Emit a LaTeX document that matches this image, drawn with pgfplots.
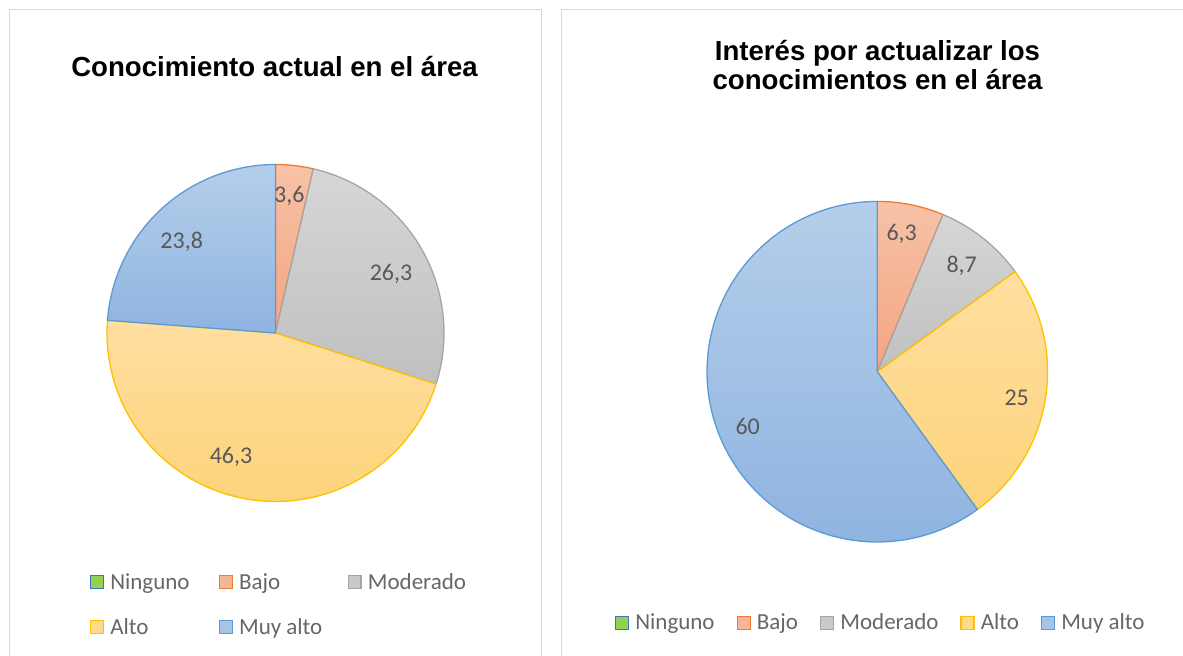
\documentclass[border=0pt]{standalone}
\usepackage{pgfplots}
\pgfplotsset{compat=1.18}
\usepackage{fontspec}
\setmainfont{Carlito}
\newfontfamily\titlefont{Liberation Sans}

\definecolor{frame}{HTML}{D9D9D9}
\definecolor{labelgray}{HTML}{595959}
\definecolor{legendgray}{HTML}{666666}
% slice colours
\definecolor{bajoline}{HTML}{ED7D31}\definecolor{bajotop}{HTML}{F7C2A8}\definecolor{bajobot}{HTML}{F3A482}
\definecolor{modline}{HTML}{A5A5A5}\definecolor{modtop}{HTML}{D6D6D6}\definecolor{modbot}{HTML}{C0C0C0}
\definecolor{altoline}{HTML}{FFC000}\definecolor{altotop}{HTML}{FFDFA0}\definecolor{altobot}{HTML}{FDD47B}
\definecolor{muyline}{HTML}{5B9BD5}\definecolor{muytop}{HTML}{B5CEEA}\definecolor{muybot}{HTML}{8FB4E0}
\definecolor{ningline}{HTML}{4472C4}\definecolor{ningfill}{HTML}{92D050}
\definecolor{bajofill}{HTML}{F5B597}\definecolor{modfill}{HTML}{C9C9C9}
\definecolor{altofill}{HTML}{FFD98C}\definecolor{muyfill}{HTML}{A7C4E7}

% cx, cy, radius, cumulative start (%), value (%), colour name
\newcommand{\pieslice}[6]{%
  \pgfmathsetmacro{\thA}{90-3.6*(#4+#5)}%
  \pgfmathsetmacro{\thB}{90-3.6*#4}%
  \addplot[forget plot, draw=#6line, line width=1.3bp, line join=round,
    top color=#6top, bottom color=#6bot,
    domain=\thA:\thB, samples=120, variable=\t]
    ({#1+#3*cos(\t)},{#2+#3*sin(\t)}) -- (axis cs:#1,#2) -- cycle;
}

\pgfplotsset{
  pielayout/.style={x=1bp, y=1bp, ymin=0, ymax=656, hide axis, clip=false,
    anchor=south west,
    legend image code/.code={\draw[##1, line width=1.4bp] (0.7bp,0.7bp) rectangle (13.6bp,13.6bp); \path[draw=none, fill=none] (0bp,0bp) -- (20.3bp,0bp);},
    legend style={draw=none, fill=none, inner sep=0pt, outer sep=0pt,
      row sep=23bp, column sep=0pt,
      font=\fontsize{23bp}{27bp}\selectfont, text=legendgray,
      nodes={inner sep=0pt, anchor=base, text height=17bp, text depth=5bp}},
  },
}
\tikzset{
  lab/.style={anchor=base, text=labelgray, font=\fontsize{24bp}{28bp}\selectfont},
  ttl/.style={anchor=base, text=black, font=\titlefont\bfseries\fontsize{27.6bp}{32bp}\selectfont},
}

\begin{document}
\begin{tikzpicture}
\useasboundingbox (0,0) rectangle (1183bp,656bp);

% ---------------- left chart ----------------
\begin{axis}[pielayout, at={(0bp,0bp)}, xmin=0, xmax=552,
  legend columns=3,
  legend style={at={(0.16304,0.12759)}, anchor=north west}]
  \draw[frame, line width=1.3bp] (axis cs:9.2,-5) -- (axis cs:9.2,646.7) -- (axis cs:541.7,646.7) -- (axis cs:541.7,-5);
  \node[ttl] at (axis cs:274.5,579) {Conocimiento actual en el área};
  % values: Ninguno 0, Bajo 3.6, Moderado 26.3, Alto 46.3, Muy alto 23.8
  \pieslice{275.5}{323}{168.5}{0}{3.6}{bajo}
  \pieslice{275.5}{323}{168.5}{3.6}{26.3}{mod}
  \pieslice{275.5}{323}{168.5}{29.9}{46.3}{alto}
  \pieslice{275.5}{323}{168.5}{76.2}{23.8}{muy}
  \node[lab] at (axis cs:289.3,453.7) {3,6};
  \node[lab] at (axis cs:391,375.3) {26,3};
  \node[lab] at (axis cs:231,192.7) {46,3};
  \node[lab] at (axis cs:181.7,407.3) {23,8};
  \addlegendimage{draw=ningline, fill=ningfill}\addlegendentry{\makebox[108.5bp][l]{Ninguno}}
  \addlegendimage{draw=bajoline, fill=bajofill}\addlegendentry{\makebox[108.5bp][l]{Bajo}}
  \addlegendimage{draw=modline, fill=modfill}\addlegendentry{\makebox[108.5bp][l]{Moderado}}
  \addlegendimage{draw=altoline, fill=altofill}\addlegendentry{\makebox[108.5bp][l]{Alto}}
  \addlegendimage{draw=muyline, fill=muyfill}\addlegendentry{\makebox[108.5bp][l]{Muy alto}}
\end{axis}

% ---------------- right chart ----------------
\begin{axis}[pielayout, at={(552bp,0bp)}, xmin=552, xmax=1183,
  legend columns=5,
  legend style={at={(0.09984,0.06555)}, anchor=north west,
    /tikz/every even column/.append style={column sep=22bp}}]
  \draw[frame, line width=1.3bp] (axis cs:561.7,-5) -- (axis cs:561.7,646.7) -- (axis cs:1190,646.7);
  \node[ttl] at (axis cs:877.5,595.5) {Interés por actualizar los};
  \node[ttl] at (axis cs:877.5,566) {conocimientos en el área};
  % values: Ninguno 0, Bajo 6.3, Moderado 8.7, Alto 25, Muy alto 60
  \pieslice{877.3}{284.3}{170.3}{0}{6.3}{bajo}
  \pieslice{877.3}{284.3}{170.3}{6.3}{8.7}{mod}
  \pieslice{877.3}{284.3}{170.3}{15}{25}{alto}
  \pieslice{877.3}{284.3}{170.3}{40}{60}{muy}
  \node[lab] at (axis cs:901.7,415.3) {6,3};
  \node[lab] at (axis cs:961.7,383.3) {8,7};
  \node[lab] at (axis cs:1016.7,250.3) {25};
  \node[lab] at (axis cs:747.7,221) {60};
  \addlegendimage{draw=ningline, fill=ningfill}\addlegendentry{Ninguno}
  \addlegendimage{draw=bajoline, fill=bajofill}\addlegendentry{Bajo}
  \addlegendimage{draw=modline, fill=modfill}\addlegendentry{Moderado}
  \addlegendimage{draw=altoline, fill=altofill}\addlegendentry{Alto}
  \addlegendimage{draw=muyline, fill=muyfill}\addlegendentry{Muy alto}
\end{axis}
\end{tikzpicture}
\end{document}
